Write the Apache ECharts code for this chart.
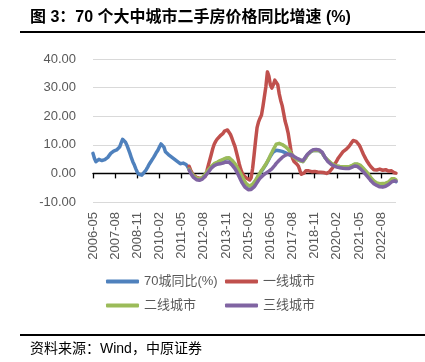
<!DOCTYPE html>
<html><head><meta charset="utf-8">
<script src="https://cdn.jsdelivr.net/npm/echarts@6/dist/echarts.min.js"></script>
<style>html,body{margin:0;padding:0;background:#fff;}#c{width:425px;height:362px;}</style>
</head><body><div id="c"></div>
<script>
// Monthly data, first category 2006-05
const startYear = 2006, startMonth = 5;
const blue70 = [
7.0,5.2,4.1,4.5,4.9,4.9,4.5,4.3,4.8,5.2,
5.6,6.3,7.0,7.6,7.8,7.8,8.2,8.4,9.2,10.6,
11.9,11.5,10.9,9.8,8.4,7.0,5.4,4.0,2.9,1.6,
0.4,-0.3,-0.6,-0.6,-0.1,0.6,1.3,2.2,3.2,4.0,
4.6,5.6,6.5,7.4,8.2,9.3,10.3,10.7,9.2,7.6,
7.0,6.6,6.2,5.8,5.4,5.0,4.6,4.2,3.8,3.4,
3.3,3.6,3.7,3.1,2.4,
1.5,0.6,-0.3,-0.9,-1.4,-1.8,-2.0,-2.0,-1.9,-1.6,
-1.1,-0.4,0.3,1.0,1.6,2.2,2.7,3.1,3.4,3.7,
4.0,4.2,4.4,4.6,4.9,5.2,5.4,5.2,4.8,4.3,
3.7,3.0,2.2,1.3,0.4,-0.6,-1.6,-2.6,-3.4,-4.0,
-4.4,-4.6,-4.4,-4.0,-3.4,-2.6,-1.7,-0.8,0.0,0.8,
1.5,2.3,3.1,4.0,5.0,6.0,6.8,7.5,7.9,8.1,
8.0,7.9,7.8,7.7,7.5,7.3,7.0,6.8,6.5,6.2,
5.9,5.5,5.2,4.9,4.7,4.5,4.3,4.2,4.7,5.6,
6.5,7.0,7.5,7.8,8.0,8.1,8.1,8.1,8.0,7.8,
7.2,6.4,5.5,4.9,4.4,4.0,3.5,3.2,2.9,2.7,
2.5,2.4,2.3,2.2,2.2,2.2,2.1,2.1,2.1,2.2,
2.5,2.8,3.1,3.2,3.1,2.9,2.5,2.0,1.4,0.8,
0.2,-0.4,-1.1,-1.8,-2.4,-2.9,-3.3,-3.6,-3.8,-3.9,
-3.9,-3.8,-3.7,-3.6,-3.5,-3.3,-2.9,-2.6,-2.5,-2.7,
-2.9
];
// Tier series start at 2011-10
const tierStart = '2011-10';
const tier1 = [
2.5,1.2,0.2,-0.6,-1.1,-1.4,-1.6,-1.7,-1.7,-1.6,
-1.4,-1.0,0.8,2.8,4.7,6.6,8.6,10.2,11.2,12.0,
12.6,13.1,13.4,14.0,14.8,15.3,15.2,14.6,13.6,12.3,
10.8,9.5,7.5,5.4,3.2,1.4,0.1,-0.8,-1.3,-1.7,
-2.1,-2.3,-1.5,1.8,6.5,11.5,16.0,18.0,19.3,20.4,
23.5,27.0,30.5,35.5,34.0,31.0,29.8,31.0,32.6,32.8,
31.0,27.8,25.5,23.7,21.0,18.2,16.4,14.2,11.0,7.8,
5.3,4.2,3.7,3.2,2.5,1.0,-0.3,-0.6,0.2,0.9,
1.2,0.9,0.6,0.6,0.7,0.7,0.6,0.5,0.6,0.4,
0.2,0.3,0.1,0.0,0.1,0.6,1.2,1.9,2.6,3.6,
4.5,5.4,6.1,6.8,7.5,7.9,8.3,8.8,9.3,10.0,
10.8,11.5,11.6,11.2,10.8,10.0,9.0,7.8,6.6,5.6,
4.6,3.8,3.0,2.3,1.7,1.3,1.1,1.2,1.4,1.5,
1.2,1.1,1.4,1.3,0.9,0.8,1.0,0.9,0.6,0.2,
0.1
];
const tier2 = [
1.5,0.6,-0.2,-0.8,-1.3,-1.7,-1.9,-1.9,-1.8,-1.5,
-0.9,-0.2,0.5,1.2,1.8,2.4,2.9,3.4,3.7,3.9,
4.2,4.5,4.7,4.9,5.1,5.4,5.6,5.5,5.1,4.6,
4.0,3.4,2.6,1.7,0.8,-0.2,-1.2,-2.2,-3.1,-3.8,
-4.2,-4.4,-4.2,-3.8,-3.2,-2.4,-1.5,-0.6,0.2,1.0,
1.7,2.5,3.3,4.2,5.2,6.3,7.3,8.4,9.3,10.2,
10.5,10.5,10.3,10.1,9.8,9.4,9.0,8.5,7.8,7.0,
6.3,5.6,5.2,4.9,4.7,4.5,4.3,4.1,4.6,5.5,
6.4,7.0,7.5,7.8,8.0,8.1,8.1,8.1,8.0,7.8,
7.2,6.4,5.6,5.0,4.6,4.1,3.6,3.3,3.0,2.8,
2.6,2.5,2.4,2.3,2.3,2.3,2.3,2.3,2.3,2.4,
2.7,3.0,3.3,3.4,3.3,3.1,2.8,2.3,1.7,1.1,
0.6,0.0,-0.7,-1.5,-2.1,-2.6,-3.0,-3.3,-3.5,-3.6,
-3.6,-3.5,-3.4,-3.4,-3.3,-3.0,-2.4,-1.9,-1.7,-1.9,
-2.3
];
const tier3 = [
1.2,0.2,-0.7,-1.4,-1.9,-2.2,-2.4,-2.4,-2.3,-2.0,
-1.5,-0.9,-0.3,0.4,1.1,1.8,2.3,2.7,3.0,3.2,
3.3,3.4,3.5,3.6,3.8,4.0,4.1,3.9,3.5,3.0,
2.4,1.7,0.8,-0.2,-1.3,-2.4,-3.4,-4.2,-4.9,-5.4,
-5.7,-5.8,-5.6,-5.2,-4.7,-4.0,-3.2,-2.4,-1.7,-1.2,
-0.7,-0.3,0.1,0.5,0.8,1.2,1.6,2.1,2.8,3.5,
4.0,4.6,5.1,5.6,6.0,6.3,6.5,6.7,6.8,6.6,
6.2,5.9,5.6,5.3,5.0,4.8,4.6,4.4,4.9,5.9,
6.6,7.1,7.6,8.0,8.3,8.4,8.4,8.3,8.2,8.0,
7.4,6.5,5.6,4.8,4.1,3.6,3.2,2.9,2.6,2.4,
2.2,2.1,2.0,1.9,1.8,1.8,1.7,1.7,1.7,1.8,
2.1,2.4,2.6,2.6,2.4,2.0,1.6,1.1,0.5,-0.1,
-0.7,-1.2,-1.9,-2.6,-3.2,-3.6,-3.9,-4.2,-4.5,-4.7,
-4.8,-4.8,-4.7,-4.5,-4.2,-3.9,-3.5,-3.0,-2.7,-2.6,
-2.7
];
const seriesNames = ['70城同比(%)', '一线城市', '二线城市', '三线城市'];
const seriesColors = ['#4f81bd', '#c0504d', '#9bbb59', '#8064a2'];
const yTicks = [-10, 0, 10, 20, 30, 40];

const categories = [];
for (let i = 0; i < blue70.length; i++) {
  const t = (startMonth - 1) + i;
  const y = startYear + Math.floor(t / 12);
  const m = (t % 12) + 1;
  categories.push(y + '-' + (m < 10 ? '0' + m : '' + m));
}
const off = categories.indexOf(tierStart);
function pad(arr) { return new Array(off).fill(null).concat(arr); }
const allData = [blue70, pad(tier1), pad(tier2), pad(tier3)];

const fontMix = "'Liberation Sans','Noto Sans CJK SC',sans-serif";
const chart = echarts.init(document.getElementById('c'), null, {renderer: 'canvas'});
const legendPos = [[106, 275], [225, 275], [106, 299], [225, 299]];
chart.setOption({
  animation: false,
  backgroundColor: '#fff',
  grid: {left: 93, right: 29, top: 59, bottom: 160},
  legend: seriesNames.map((n, i) => ({
    data: [n], left: legendPos[i][0], top: legendPos[i][1], padding: 0,
    itemWidth: 33, itemHeight: 4, icon: 'roundRect',
    textStyle: {fontSize: 13, color: '#595959', fontFamily: fontMix}
  })),
  xAxis: [{
    type: 'category', data: categories, boundaryGap: false, position: 'bottom',
    axisLine: {onZero: true, lineStyle: {color: '#000', width: 1.3}},
    axisTick: {interval: 14, length: 5, lineStyle: {color: '#000', width: 1.3}},
    axisLabel: {show: false}, splitLine: {show: false}
  }, {
    type: 'category', data: categories, boundaryGap: false, position: 'bottom',
    axisLine: {show: false, onZero: false}, axisTick: {show: false},
    axisLabel: {interval: 14, rotate: 90, margin: 10, color: '#595959', fontSize: 13, fontFamily: fontMix},
    splitLine: {show: false}
  }],
  yAxis: {
    type: 'value', min: yTicks[0], max: yTicks[yTicks.length - 1], interval: 10,
    axisLine: {show: false}, axisTick: {show: false},
    axisLabel: {formatter: v => v.toFixed(2), color: '#595959', fontSize: 13, margin: 17, fontFamily: fontMix},
    splitLine: {lineStyle: {color: '#d9d9d9', width: 1}}
  },
  series: allData.map((d, i) => ({
    name: seriesNames[i], type: 'line', data: d, xAxisIndex: 0,
    symbol: 'none', smooth: false, connectNulls: false,
    lineStyle: {width: 3.5, color: seriesColors[i], cap: 'round', join: 'round'},
    itemStyle: {color: seriesColors[i]}
  })),
  graphic: [
    {type: 'text', left: 30, top: 10, style: {text: '图 3：70 个大中城市二手房价格同比增速 (%)', font: "bold 16px 'Liberation Sans','Noto Sans CJK SC',sans-serif", fill: '#000'}},
    {type: 'rect', shape: {x: 20, y: 31, width: 405, height: 2}, style: {fill: '#000'}},
    {type: 'rect', shape: {x: 20, y: 334, width: 405, height: 2}, style: {fill: '#000'}},
    {type: 'text', left: 30, top: 342, style: {text: '资料来源：Wind，中原证券', font: "14px 'Liberation Sans','Noto Sans CJK SC',sans-serif", fill: '#000'}}
  ]
});
</script></body></html>
